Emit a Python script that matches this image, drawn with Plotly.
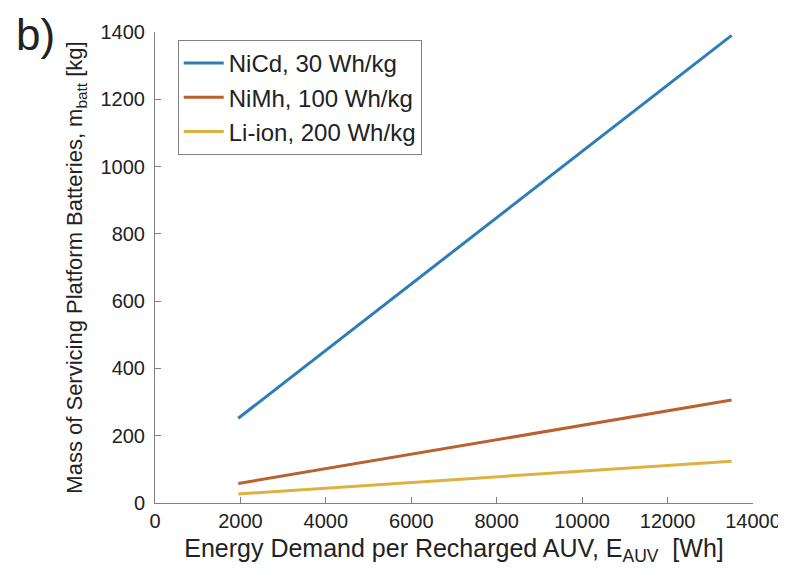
import plotly.graph_objects as go

energy = [1950, 13500]
nicd = [252, 1390]
nimh = [58, 306]
liion = [27, 124]
names = ["NiCd, 30 Wh/kg", "NiMh, 100 Wh/kg", "Li-ion, 200 Wh/kg"]
colors = ["#2F7DB6", "#B9622F", "#DDB23E"]
xticks = [0, 2000, 4000, 6000, 8000, 10000, 12000, 14000]
yticks = [0, 200, 400, 600, 800, 1000, 1200, 1400]

fig = go.Figure()
for ys, n, c in zip([nicd, nimh, liion], names, colors):
    fig.add_trace(go.Scatter(x=energy, y=ys, mode="lines", name=n,
                             line=dict(color=c, width=3)))

font = "Liberation Sans, Arial, sans-serif"
axis_common = dict(showgrid=False, zeroline=False, showline=True, linecolor="#808080",
                   linewidth=1, ticks="inside", ticklen=6, tickcolor="#808080",
                   tickformat="d",
                   tickfont=dict(family=font, size=20, color="#222"))
fig.update_layout(
    width=786, height=575, plot_bgcolor="white", paper_bgcolor="white",
    margin=dict(l=147, r=41, t=24, b=80),
    showlegend=True,
    legend=dict(x=0.038, y=0.983, xanchor="left", yanchor="top",
                bordercolor="#808080", borderwidth=1, bgcolor="white",
                font=dict(family=font, size=24, color="#222"),
                tracegroupgap=0, itemwidth=40),
    xaxis=dict(range=[0, 14000], tickvals=xticks,
               title=dict(text="Energy Demand per Recharged AUV, E<sub>AUV</sub>  [Wh]",
                          font=dict(family=font, size=25, color="#222"), standoff=8),
               **axis_common),
    yaxis=dict(range=[0, 1400], tickvals=yticks, ticklabelstandoff=5,
               title=dict(text="Mass of Servicing Platform Batteries, m<sub>batt</sub> [kg]",
                          font=dict(family=font, size=22, color="#222"), standoff=11),
               **axis_common),
)
fig.add_annotation(text="b)", x=-0.235, y=1.051, xref="paper", yref="paper",
                   xanchor="left", yanchor="top", showarrow=False,
                   font=dict(family=font, size=44, color="#222"))
fig.write_html("out.html")
